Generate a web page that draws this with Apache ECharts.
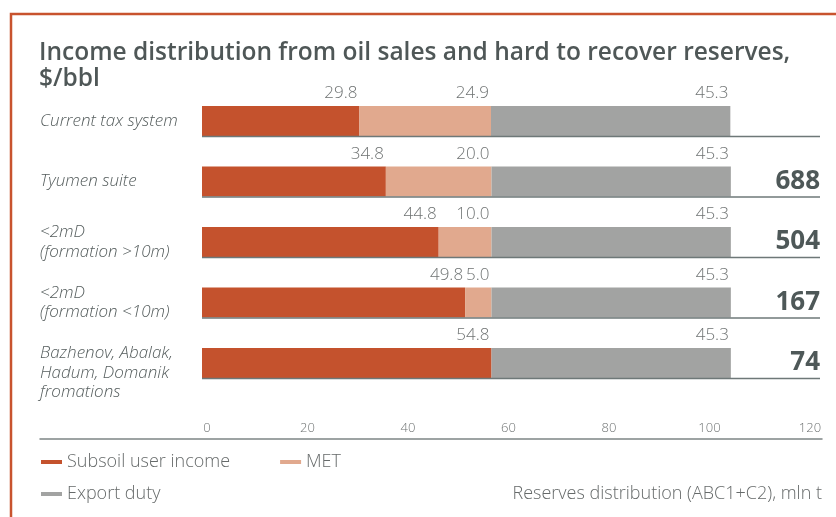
<!DOCTYPE html>
<html>
<head>
<meta charset="utf-8">
<script src="https://cdn.jsdelivr.net/npm/echarts@6/dist/echarts.min.js"></script>
<style>
  html, body { margin: 0; padding: 0; background: #fff; }
  #chart { width: 836px; height: 517px; }
</style>
</head>
<body>
<div id="chart"></div>
<script>
const categories = [
  "Current tax system",
  "Tyumen suite",
  "<2mD\n(formation >10m)",
  "<2mD\n(formation <10m)",
  "Bazhenov, Abalak,\nHadum, Domanik\nfromations"
];
const subsoilIncome = [29.8, 34.8, 44.8, 49.8, 54.8];
const met = [24.9, 20.0, 10.0, 5.0, null];
const exportDuty = [45.3, 45.3, 45.3, 45.3, 45.3];
const reserves = ["", "688", "504", "167", "74"];
const tickValues = [0, 20, 40, 60, 80, 100, 120];

const RED = "#c4522d";
const PINK = "#e1a98e";
const GREY = "#a2a3a2";
const FONT = "Open Sans";

const chart = echarts.init(document.getElementById("chart"));

// value label sitting above the right end of each segment
function segLabel() {
  return {
    show: true,
    position: ["100%", 0],
    align: "right",
    verticalAlign: "bottom",
    offset: [-2, -4],
    fontFamily: FONT,
    fontWeight: 300,
    fontSize: 17,
    color: "#6f7373",
    formatter: p => (p.value == null ? "" : p.value.toFixed(1))
  };
}

function stackBar(name, data, color) {
  return {
    name, type: "bar", stack: "all", data,
    barWidth: 30,
    itemStyle: { color },
    label: segLabel(),
    emphasis: { disabled: true }
  };
}

const legendText = { fontFamily: FONT, fontSize: 18, fontWeight: 300, color: "#666a6a" };

chart.setOption({
  animation: false,
  textStyle: { fontFamily: FONT },
  title: [
    {
      text: "Income distribution from oil sales and hard to recover reserves,\n$/bbl",
      left: 39, top: 40, padding: 0,
      textStyle: { fontFamily: FONT, fontSize: 24.5, fontWeight: 600, color: "#4f5757", lineHeight: 26 }
    },
    {
      text: "Reserves distribution (ABC1+C2), mln t",
      right: 14, top: 485, padding: 0,
      textStyle: legendText
    }
  ],
  legend: [
    {
      data: ["Subsoil user income", "MET"],
      left: 41, top: 453, padding: 0, icon: "rect", itemWidth: 21, itemHeight: 4, itemGap: 50,
      selectedMode: false,
      textStyle: legendText
    },
    {
      data: ["Export duty"],
      left: 41, top: 485, padding: 0, icon: "rect", itemWidth: 21, itemHeight: 4,
      selectedMode: false,
      textStyle: legendText
    }
  ],
  grid: [
    { left: 202, width: 636, top: 90.75, height: 302.5 },
    { left: 40, right: 14, top: 438, height: 1 }
  ],
  xAxis: [
    { gridIndex: 0, type: "value", min: 0, max: 120, show: false },
    {
      gridIndex: 1, type: "value", position: "top",
      min: -33.23, max: 122.39,
      axisLine: { show: true, lineStyle: { color: "#7d8585", width: 1.5 } },
      axisTick: { show: false },
      splitLine: { show: false },
      axisLabel: {
        customValues: tickValues, margin: 3,
        fontFamily: FONT, fontSize: 13, fontWeight: 300, color: "#6f7373"
      }
    }
  ],
  yAxis: [
    {
      gridIndex: 0, type: "category", data: categories, inverse: true,
      axisLine: { show: false }, axisTick: { show: false },
      axisLabel: {
        align: "left", margin: 162,
        fontFamily: FONT, fontStyle: "italic", fontWeight: 300, fontSize: 17, lineHeight: 19.5, color: "#555d5d",
        formatter: (v, i) => (i === 4 ? "\n" + v : v)
      }
    },
    {
      gridIndex: 0, type: "category", data: reserves, inverse: true, position: "right",
      axisLine: { show: false }, axisTick: { show: false },
      axisLabel: {
        align: "right", margin: -16, padding: [6, 0, 0, 0],
        fontFamily: FONT, fontSize: 26, fontWeight: "bold", color: "#4e5858"
      }
    },
    { gridIndex: 1, type: "value", show: false }
  ],
  series: [
    stackBar("Subsoil user income", subsoilIncome, RED),
    stackBar("MET", met, PINK),
    stackBar("Export duty", exportDuty, GREY),
    {
      // rule under each row
      type: "custom", z: 5, silent: true,
      data: categories.map((c, i) => [0, i]),
      renderItem: (params, api) => {
        const p = api.coord([api.value(0), api.value(1)]);
        const y = p[1] + 15.5;
        return {
          type: "line",
          shape: { x1: p[0], y1: y, x2: params.coordSys.x + params.coordSys.width - 16, y2: y },
          style: { stroke: "#6e7878", lineWidth: 1.5 }
        };
      }
    }
  ],
  graphic: [
    {
      type: "polyline", silent: true,
      shape: { points: [[11, 517], [11, 14], [836, 14]] },
      style: { stroke: "#c8532e", lineWidth: 2.5, fill: null }
    }
  ]
});
</script>
</body>
</html>
